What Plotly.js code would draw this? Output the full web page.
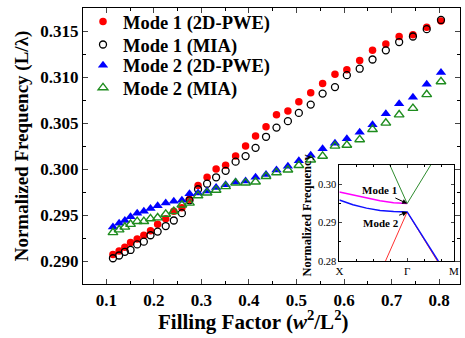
<!DOCTYPE html>
<html><head><meta charset="utf-8">
<script src="https://cdn.plot.ly/plotly-3.0.1.min.js"></script>
<style>html,body{margin:0;padding:0;background:#fff}#c{width:465px;height:338px}</style>
</head><body><div id="c"></div>
<script>
// Filling factor (w^2/L^2) values
const fillingFactor = [0.114,0.127,0.139,0.151,0.165,0.179,0.193,0.208,0.225,0.242,0.259,0.275,0.293,0.312,0.331,0.351,0.372,0.393,0.414,0.436,0.458,0.482,0.505,0.530,0.555,0.581,0.606,0.633,0.660,0.688,0.716,0.745,0.774,0.804];
const mode1PWE = [0.2907,0.2911,0.2915,0.2920,0.2924,0.2928,0.2933,0.2940,0.2946,0.2954,0.2958,0.2967,0.2982,0.2991,0.3000,0.3004,0.3014,0.3025,0.3036,0.3046,0.3059,0.3063,0.3073,0.3083,0.3093,0.3103,0.3108,0.3118,0.3129,0.3136,0.3144,0.3146,0.3154,0.3161];
const mode1MIA = [0.2903,0.2906,0.2910,0.2912,0.2918,0.2921,0.2928,0.2932,0.2938,0.2944,0.2952,0.2966,0.2978,0.2984,0.2991,0.2998,0.3008,0.3014,0.3023,0.3035,0.3045,0.3052,0.3061,0.3070,0.3082,0.3089,0.3102,0.3109,0.3119,0.3129,0.3138,0.3144,0.3152,0.3162];
const mode2PWE = [0.2937,0.2941,0.2944,0.2948,0.2952,0.2954,0.2957,0.2960,0.2963,0.2965,0.2966,0.2973,0.2974,0.2976,0.2980,0.2983,0.2986,0.2987,0.2991,0.2994,0.2999,0.3003,0.3009,0.3015,0.3022,0.3028,0.3033,0.3040,0.3048,0.3060,0.3071,0.3078,0.3092,0.3105];
const mode2MIA = [0.2931,0.2934,0.2937,0.2940,0.2943,0.2943,0.2946,0.2947,0.2951,0.2954,0.2961,0.2963,0.2971,0.2974,0.2977,0.2981,0.2985,0.2985,0.2986,0.2992,0.2996,0.2999,0.3004,0.3010,0.3014,0.3025,0.3026,0.3032,0.3043,0.3050,0.3059,0.3066,0.3081,0.3095];
const seriesNames = ['Mode 1 (2D-PWE)','Mode 1 (MIA)','Mode 2 (2D-PWE)','Mode 2 (MIA)'];

// Inset band diagram (k path X - Γ - M)
const insetTickVals = [0, 1, 1.69];
const insetTickText = ['X', 'Γ', 'M'];
const magentaK = [0, 0.2, 0.4, 0.6, 0.8, 1.0];
const magentaF = [0.2980, 0.2972, 0.2964, 0.2957, 0.2952, 0.2950];
const blueK = [0, 0.2, 0.4, 0.6, 0.8, 1.0, 1.46];
const blueF = [0.2959, 0.2947, 0.2938, 0.2932, 0.2929, 0.2928, 0.2800];
const redK = [0.68, 1.0, 1.445];
const redF = [0.2800, 0.2928, 0.2800];
const greenK = [0.72, 1.0, 1.38];
const greenF = [0.3060, 0.2950, 0.3060];

const serif = '"Liberation Serif", serif';
const traces = [
  {x: fillingFactor, y: mode1PWE, name: seriesNames[0], mode: 'markers', legend: 'legend',
   marker: {symbol: 'circle', size: 7.5, color: '#ff0000'}},
  {x: fillingFactor, y: mode1MIA, name: seriesNames[1], mode: 'markers', legend: 'legend2',
   marker: {symbol: 'circle-open', size: 7, color: '#000000', line: {width: 1.3}}},
  {x: fillingFactor, y: mode2PWE, name: seriesNames[2], mode: 'markers', legend: 'legend3',
   marker: {symbol: 'triangle-up', size: 9, color: '#0000ff'}},
  {x: fillingFactor, y: mode2MIA, name: seriesNames[3], mode: 'markers', legend: 'legend4',
   marker: {symbol: 'triangle-up-open', size: 8.5, color: '#1e8c1e', line: {width: 1.4}}},
  {x: magentaK, y: magentaF, xaxis: 'x2', yaxis: 'y2', mode: 'lines', showlegend: false,
   line: {color: '#ff00ff', width: 1.5}},
  {x: redK, y: redF, xaxis: 'x2', yaxis: 'y2', mode: 'lines', showlegend: false,
   line: {color: '#ff3030', width: 1}},
  {x: blueK, y: blueF, xaxis: 'x2', yaxis: 'y2', mode: 'lines', showlegend: false,
   line: {color: '#1010ff', width: 1.5}},
  {x: greenK, y: greenF, xaxis: 'x2', yaxis: 'y2', mode: 'lines', showlegend: false,
   line: {color: '#2e8b2e', width: 1}}
];

const legBase = {x: 0, xanchor: 'left', yanchor: 'middle', bgcolor: 'rgba(0,0,0,0)',
  font: {family: serif, size: 18.5, weight: 'bold', color: '#000'}};

const layout = {
  width: 465, height: 338,
  margin: {l: 83, r: 5, t: 3, b: 54},
  paper_bgcolor: '#fff', plot_bgcolor: '#fff',
  font: {family: serif, color: '#000'},
  showlegend: true,
  legend: Object.assign({}, legBase, {y: 0.949}),
  legend2: Object.assign({}, legBase, {y: 0.866}),
  legend3: Object.assign({}, legBase, {y: 0.791}),
  legend4: Object.assign({}, legBase, {y: 0.710}),
  xaxis: {
    domain: [0, 1], range: [0.051, 0.844], tick0: 0.1, dtick: 0.1, tickformat: '.1f',
    ticks: 'inside', ticklen: 5, tickwidth: 1, showline: true, linewidth: 1.2, linecolor: '#000',
    mirror: 'ticks', showgrid: false, zeroline: false,
    minor: {dtick: 0.05, ticks: 'inside', ticklen: 3, tickcolor: '#000'},
    tickfont: {family: serif, size: 17, weight: 'bold', color: '#000'}
  },
  yaxis: {
    domain: [0, 1], range: [0.2875, 0.3175], tick0: 0.29, dtick: 0.005, tickformat: '.3f',
    ticks: 'inside', ticklen: 5, tickwidth: 1, showline: true, linewidth: 1.2, linecolor: '#000',
    mirror: 'ticks', showgrid: false, zeroline: false,
    minor: {dtick: 0.0025, ticks: 'inside', ticklen: 3, tickcolor: '#000'},
    tickfont: {family: serif, size: 17, weight: 'bold', color: '#000'},
    title: {text: 'Normalized Frequency (L/λ)', standoff: 6,
      font: {family: serif, size: 19, weight: 'bold', color: '#000'}}
  },
  xaxis2: {
    domain: [0.680, 0.984], anchor: 'y2', range: [0, 1.69],
    tickvals: insetTickVals, ticktext: insetTickText, ticks: 'inside', ticklen: 3,
    showline: true, linewidth: 1, linecolor: '#000', mirror: 'ticks', showgrid: false, zeroline: false,
    minor: {tickvals: [0.25, 0.5, 0.75, 1.25, 1.5], ticks: 'inside', ticklen: 2, tickcolor: '#000'},
    tickfont: {family: serif, size: 11, color: '#000'}
  },
  yaxis2: {
    domain: [0.083, 0.432], anchor: 'x2', range: [0.28, 0.3051],
    tickvals: [0.28, 0.29, 0.30], ticktext: ['0.28', '0.29', '0.30'], ticks: 'inside', ticklen: 3,
    showline: true, linewidth: 1, linecolor: '#000', mirror: 'ticks', showgrid: false, zeroline: false,
    minor: {dtick: 0.005, ticks: 'inside', ticklen: 2, tickcolor: '#000'},
    tickfont: {family: serif, size: 10.5, color: '#000'}
  },
  annotations: [
    {xref: 'paper', yref: 'paper', x: 0.452, y: -0.134, xanchor: 'center', yanchor: 'middle',
     text: 'Filling Factor (<i>w</i><sup>2</sup>/L<sup>2</sup>)', showarrow: false,
     font: {family: serif, size: 21, weight: 'bold', color: '#000'}},
    {xref: 'paper', yref: 'paper', x: 0.595, y: 0.249, xanchor: 'center', yanchor: 'middle',
     text: 'Normalized Frequency', textangle: -90,
     showarrow: false, font: {family: serif, size: 12.5, weight: 'bold', color: '#000'}},
    {xref: 'x2', yref: 'y2', x: 1.0, y: 0.2950, axref: 'x2', ayref: 'y2', ax: 0.59, ay: 0.2984,
     text: 'Mode 1', showarrow: true, arrowhead: 2, arrowsize: 1, arrowwidth: 1, arrowcolor: '#000',
     font: {family: serif, size: 11, weight: 'bold', color: '#000'}},
    {xref: 'x2', yref: 'y2', x: 1.0, y: 0.2928, axref: 'x2', ayref: 'y2', ax: 0.61, ay: 0.2900,
     text: 'Mode 2', showarrow: true, arrowhead: 2, arrowsize: 1, arrowwidth: 1, arrowcolor: '#000',
     font: {family: serif, size: 11, weight: 'bold', color: '#000'}}
  ]
};

Plotly.newPlot('c', traces, layout, {displayModeBar: false, staticPlot: true});
</script></body></html>
